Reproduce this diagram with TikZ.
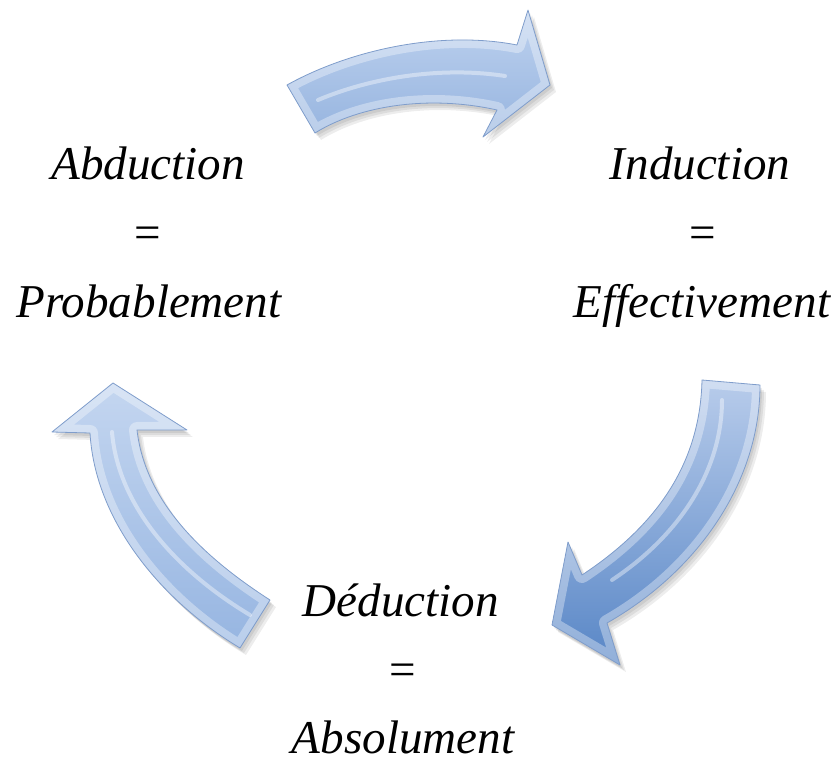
\documentclass[tikz,border=0pt]{standalone}
\usepackage{fontspec}
\setmainfont{Liberation Serif}
\begin{document}
\begin{tikzpicture}[x=0.75pt,y=-0.75pt]
\useasboundingbox (0,0) rectangle (840,762);
\definecolor{edgeblue}{HTML}{7F9DCB}
\tikzset{
  lbl/.style={anchor=base, inner sep=0pt, font=\fontsize{35.3}{40}\selectfont\itshape},
  eqs/.style={anchor=base, inner sep=0pt, font=\fontsize{35.3}{40}\selectfont},
  toparrow/.style={insert path={(287,85) .. controls (350,50) and (440,30) .. (517,45)
      -- (528,10) -- (550,85) -- (483,137) -- (497,110)
      .. controls (430,95) and (360,105) .. (315,133) -- cycle}},
  rightarrow/.style={insert path={(702,380) -- (760,385)
      .. controls (760,480) and (700,570) .. (607,623)
      -- (620,665) -- (552,625) -- (568,542) -- (582,575)
      .. controls (650,530) and (700,470) .. (702,380) -- cycle}},
  leftarrow/.style={insert path={(113,383) -- (187,430) -- (137,430)
      .. controls (145,500) and (200,555) .. (270,600)
      -- (240,648)
      .. controls (160,600) and (95,520) .. (90,433)
      -- (52,432) -- cycle}},
  shadowlayer/.style={fill=black, opacity=0.07},
  rim/.style={draw=white, opacity=0.35, line width=12pt, line join=round},
  outline/.style={draw=edgeblue, line width=0.6pt, line join=round},
  gloss/.style={white, opacity=0.4, line width=3pt, line cap=round}
}
% shadows
\foreach \d in {2,4,6} {
  \fill[shadowlayer, shift={(\d,\d+1)}, toparrow];
  \fill[shadowlayer, shift={(\d,\d+1)}, rightarrow];
  \fill[shadowlayer, shift={(\d,\d+1)}, leftarrow];
}
% top arrow
\shade[top color={rgb,255:red,190;green,210;blue,239}, bottom color={rgb,255:red,150;green,180;blue,223}, toparrow];
\begin{scope}
  \clip[toparrow];
  \draw[rim, toparrow];
  \draw[gloss] (318,100) .. controls (370,78) and (440,66) .. (505,76);
\end{scope}
\draw[outline, toparrow];
% right arrow
\shade[top color={rgb,255:red,184;green,204;blue,235}, bottom color={rgb,255:red,88;green,134;blue,198}, rightarrow];
\begin{scope}
  \clip[rightarrow];
  \draw[gloss] (722,400) .. controls (722,470) and (680,535) .. (612,580);
  \draw[rim, rightarrow];
\end{scope}
\draw[outline, rightarrow];
% left arrow
\shade[top color={rgb,255:red,196;green,214;blue,240}, bottom color={rgb,255:red,150;green,181;blue,225}, leftarrow];
\begin{scope}
  \clip[leftarrow];
  \draw[rim, leftarrow];
  \draw[gloss] (112,432) .. controls (118,505) and (175,570) .. (250,615);
\end{scope}
\draw[outline, leftarrow];
% labels
\node[lbl] (abd) at (148,180) {Abduction};
\node[eqs] (abdeq) at (148,249) {=};
\node[lbl] (abdval) at (149,318) {Probablement};
\node[lbl] (ind) at (700,180) {Induction};
\node[eqs] (indeq) at (703,249) {=};
\node[lbl] (indval) at (702,318) {Effectivement};
\node[lbl] (ded) at (401,617) {Déduction};
\node[eqs] (dedeq) at (403,686) {=};
\node[lbl] (dedval) at (403,754) {Absolument};
\end{tikzpicture}
\end{document}
